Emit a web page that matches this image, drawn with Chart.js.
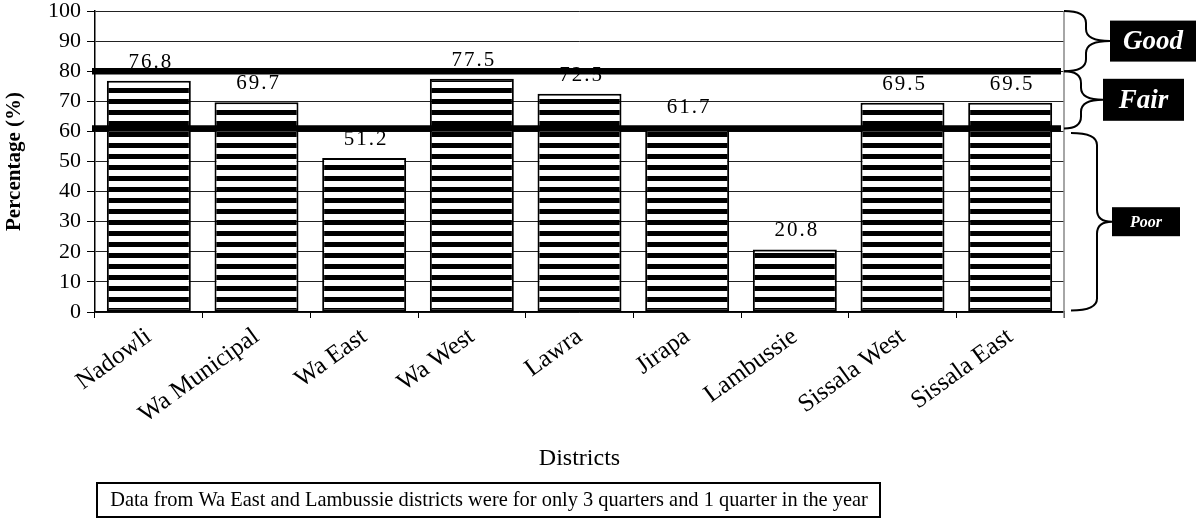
<!DOCTYPE html>
<html>
<head>
<meta charset="utf-8">
<script src="https://cdn.jsdelivr.net/npm/chart.js@4"></script>
<style>
html,body{margin:0;padding:0;background:#fff;}
#wrap{width:1200px;height:519px;position:relative;}
</style>
</head>
<body>
<div id="wrap"><canvas id="c" width="1200" height="519"></canvas></div>
<script>
const districts = ["Nadowli","Wa Municipal","Wa East","Wa West","Lawra","Jirapa","Lambussie","Sissala West","Sissala East"];
const percentages = [76.8, 69.7, 51.2, 77.5, 72.5, 61.7, 20.8, 69.5, 69.5];
const yTicks = [0,10,20,30,40,50,60,70,80,90,100];
const thresholds = [80, 61];
const bands = [
  {label:"Good", from:100, to:80},
  {label:"Fair", from:80, to:61},
  {label:"Poor", from:59.5, to:0.5}
];
const footnote = "Data from Wa East and Lambussie districts were for only 3 quarters and 1 quarter in the year";

const SERIF = "'Liberation Serif','Times New Roman',serif";

// stripe pattern
function makePattern(){
  const p = document.createElement('canvas');
  p.width = 8; p.height = 11;
  const g = p.getContext('2d');
  g.fillStyle = '#fff'; g.fillRect(0,0,8,11);
  g.fillStyle = '#000'; g.fillRect(0,0,8,5);
  return document.getElementById('c').getContext('2d').createPattern(p,'repeat');
}

function zeroPad(s){ s.paddingTop = 0; s.paddingBottom = 0; s.paddingLeft = 0; s.paddingRight = 0; }

const overlay = {
  id:'overlay',
  afterDatasetsDraw(chart){
    const ctx = chart.ctx, ya = chart.scales.y, ca = chart.chartArea;
    ctx.save();
    // right border
    ctx.strokeStyle = '#888'; ctx.lineWidth = 1.5;
    ctx.beginPath(); ctx.moveTo(ca.right, ca.top); ctx.lineTo(ca.right, ca.bottom+6); ctx.stroke();
    // data labels
    ctx.fillStyle = '#000';
    ctx.font = "21px " + SERIF;
    ctx.textAlign = 'center'; ctx.textBaseline = 'bottom';
    if ('letterSpacing' in ctx) ctx.letterSpacing = '2px';
    const meta = chart.getDatasetMeta(0);
    meta.data.forEach((bar,i)=>{
      ctx.fillText(percentages[i].toFixed(1), bar.x+2, bar.y - 8);
    });
    if ('letterSpacing' in ctx) ctx.letterSpacing = '0px';
    // threshold lines (on top of labels)
    ctx.strokeStyle = '#000'; ctx.lineWidth = 6.5;
    thresholds.forEach(v=>{
      const y = ya.getPixelForValue(v);
      ctx.beginPath(); ctx.moveTo(ca.left-3, y); ctx.lineTo(ca.right-3, y); ctx.stroke();
    });
    // braces
    function brace(x0, yT, yB, depth, tipX){
      const x1 = x0 + depth, ym = (yT+yB)/2, r = Math.min(12,(yB-yT)/4);
      ctx.beginPath();
      ctx.moveTo(x0, yT);
      ctx.quadraticCurveTo(x1, yT, x1, yT + r);
      ctx.lineTo(x1, ym - r);
      ctx.quadraticCurveTo(x1, ym, tipX, ym);
      ctx.moveTo(tipX, ym);
      ctx.quadraticCurveTo(x1, ym, x1, ym + r);
      ctx.lineTo(x1, yB - r);
      ctx.quadraticCurveTo(x1, yB, x0, yB);
      ctx.stroke();
    }
    ctx.strokeStyle = '#000'; ctx.lineWidth = 2;
    const boxes = [
      {x:1110, w:86, h:41, font:"bold italic 27px ", depth:22, x0:ca.right},
      {x:1103, w:81, h:42, font:"bold italic 27px ", depth:17, x0:ca.right},
      {x:1112, w:68, h:29, font:"bold italic 16px ", depth:26, x0:ca.right+7}
    ];
    bands.forEach((b,i)=>{
      const yT = ya.getPixelForValue(b.from), yB = ya.getPixelForValue(b.to);
      const bx = boxes[i];
      brace(bx.x0, yT, yB, bx.depth, bx.x);
      const ym = (yT+yB)/2;
      ctx.fillStyle = '#000';
      ctx.fillRect(bx.x, ym - bx.h/2, bx.w, bx.h);
      ctx.fillStyle = '#fff';
      ctx.font = bx.font + SERIF;
      ctx.textAlign = 'center'; ctx.textBaseline = 'middle';
      ctx.fillText(b.label, bx.x + bx.w/2, ym + 1);
    });
    // footnote
    ctx.strokeStyle = '#000'; ctx.lineWidth = 2;
    ctx.strokeRect(97, 483, 783, 34);
    ctx.fillStyle = '#000';
    ctx.font = "20.4px " + SERIF;
    ctx.textAlign = 'center'; ctx.textBaseline = 'middle';
    ctx.fillText(footnote, 489, 501);
    ctx.restore();
  }
};

new Chart(document.getElementById('c'), {
  type:'bar',
  data:{
    labels: districts,
    datasets:[{
      data: percentages,
      backgroundColor: makePattern(),
      borderColor:'#000',
      borderWidth:2,
      borderSkipped:false,
      barPercentage:0.78,
      categoryPercentage:1.0
    }]
  },
  options:{
    responsive:false,
    animation:false,
    devicePixelRatio:1,
    layout:{padding:{left:0, top:11, right:136, bottom:0}},
    plugins:{legend:{display:false}, tooltip:{enabled:false}},
    scales:{
      y:{
        min:0, max:100,
        afterFit(s){ s.width = 95; zeroPad(s); },
        afterBuildTicks(s){ s.ticks = yTicks.map(v=>({value:v})); },
        grid:{color:'#222', lineWidth:1, drawTicks:true, tickLength:8, tickColor:'#000'},
        border:{color:'#000', width:1.5},
        ticks:{color:'#000', font:{family:SERIF, size:22}, padding:6, autoSkip:false},
        title:{display:true, text:'Percentage (%)', color:'#000', font:{family:SERIF, size:21, weight:'bold'}, padding:{top:2,bottom:0}}
      },
      x:{
        afterFit(s){ s.height = 207; zeroPad(s); },
        grid:{offset:true, drawOnChartArea:false, drawTicks:true, tickLength:6, tickColor:'#000'},
        border:{color:'#000', width:1.5},
        ticks:{color:'#000', font:{family:SERIF, size:25}, minRotation:36, maxRotation:36, padding:4, autoSkip:false},
        title:{display:true, text:'Districts', color:'#000', font:{family:SERIF, size:24}, padding:{top:0,bottom:46}}
      }
    }
  },
  plugins:[overlay]
});
</script>
</body>
</html>
